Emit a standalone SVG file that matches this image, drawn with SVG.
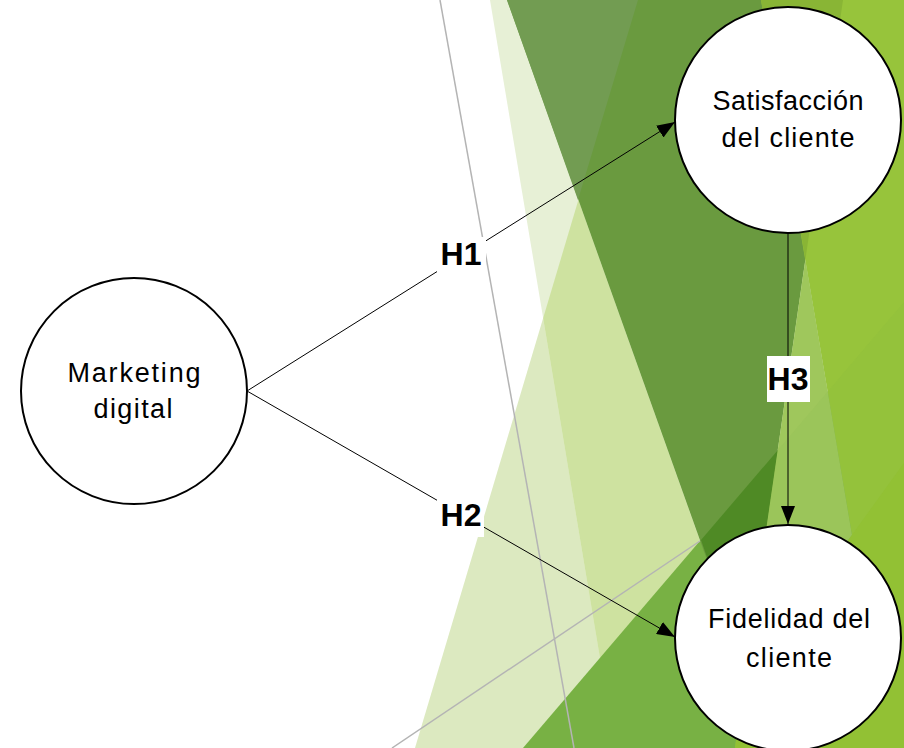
<svg xmlns="http://www.w3.org/2000/svg" width="904" height="748" viewBox="0 0 904 748">
  <style>
    .node circle { fill: #ffffff; stroke: #000000; stroke-width: 2; }
    .nt { font-family: "Liberation Sans", Arial, sans-serif; font-size: 27px; fill: #000000; text-anchor: middle; }
    .conn line { stroke: #000000; stroke-width: 1; }
    .lbl rect { fill: #ffffff; }
    .lbl text { font-family: "Liberation Sans", Arial, sans-serif; font-size: 32px; font-weight: bold; fill: #000000; text-anchor: middle; }
    .rule { stroke: #b4b4b4; stroke-width: 1.5; fill: none; }
  </style>
  <defs>
    <marker id="arrow" markerWidth="18" markerHeight="14" refX="18" refY="7" orient="auto" markerUnits="userSpaceOnUse">
      <path d="M0,0 L18,7 L0,14 Z" fill="#000000"/>
    </marker>
    <clipPath id="riseClip">
      <polygon points="638,0 904,0 904,748 415,748"/>
    </clipPath>
  </defs>

  <!-- backdrop facets -->
  <g id="backdrop">
    <rect width="904" height="748" fill="#ffffff"/>
    <polygon points="638,0 904,0 904,748 415,748" fill="#dce9c0"/>
    <polygon points="490,0 507,0 774,748 615,748" fill="#e7f0d6"/>
    <polygon points="490,0 507,0 774,748 615,748" fill="#cee2a0" clip-path="url(#riseClip)"/>
    <polygon points="523,748 904,302 904,748" fill="#78b144"/>
    <polygon points="507,0 843,0 746,669" fill="#6a9a3f"/>
    <polygon points="507,0 638,0 578,200" fill="#729c52"/>
    <polygon points="701,540 778,450 746,669" fill="#4f8a25"/>
    <polygon points="761,0 904,0 904,748 735,748 743.6,685 852,535" fill="#97c43b"/>
    <polygon points="805.4,259.5 852,535 743.6,685" fill="#9fc75c"/>
    <polygon points="904,463 904,748 735,748 743.6,685 852,535" fill="#92c134"/>
    <polygon points="761,0 843,0 805.4,259.5" fill="#89b535"/>
    <polygon points="778,450 904,302 904,463 852,535 743.6,685" fill="#78b144" opacity="0.07"/>
    <line class="rule" x1="440" y1="0" x2="574" y2="748"/>
    <line class="rule" x1="392" y1="748" x2="700" y2="541"/>
  </g>

  <!-- connectors -->
  <g id="connectors" class="conn">
    <line id="h1-edge" x1="247" y1="391" x2="675" y2="122" marker-end="url(#arrow)"/>
    <line id="h2-edge" x1="247" y1="391" x2="675" y2="637" marker-end="url(#arrow)"/>
    <line id="h3-edge" x1="788" y1="233" x2="788" y2="524" marker-end="url(#arrow)"/>
  </g>

  <!-- hypothesis labels -->
  <g id="labels" class="lbl">
    <g id="label-h1">
      <rect x="437" y="237" width="49" height="38"/>
      <text x="461" y="265">H1</text>
    </g>
    <g id="label-h2">
      <rect x="437" y="498" width="47" height="39"/>
      <text x="461" y="526">H2</text>
    </g>
    <g id="label-h3">
      <rect x="767" y="356" width="43" height="46"/>
      <text x="788" y="390">H3</text>
    </g>
  </g>

  <!-- nodes -->
  <g id="node-marketing" class="node">
    <circle cx="134" cy="391" r="113"/>
    <text class="nt" x="134" y="382" textLength="133" lengthAdjust="spacing">Marketing</text>
    <text class="nt" x="133" y="418" textLength="79" lengthAdjust="spacing">digital</text>
  </g>
  <g id="node-satisfaccion" class="node">
    <circle cx="788" cy="120" r="113"/>
    <text class="nt" x="788" y="110" textLength="151" lengthAdjust="spacing">Satisfacción</text>
    <text class="nt" x="788" y="147" textLength="133" lengthAdjust="spacing">del cliente</text>
  </g>
  <g id="node-fidelidad" class="node">
    <circle cx="788" cy="638" r="113"/>
    <text class="nt" x="789" y="628" textLength="162" lengthAdjust="spacing">Fidelidad del</text>
    <text class="nt" x="789" y="667" textLength="86" lengthAdjust="spacing">cliente</text>
  </g>
</svg>
